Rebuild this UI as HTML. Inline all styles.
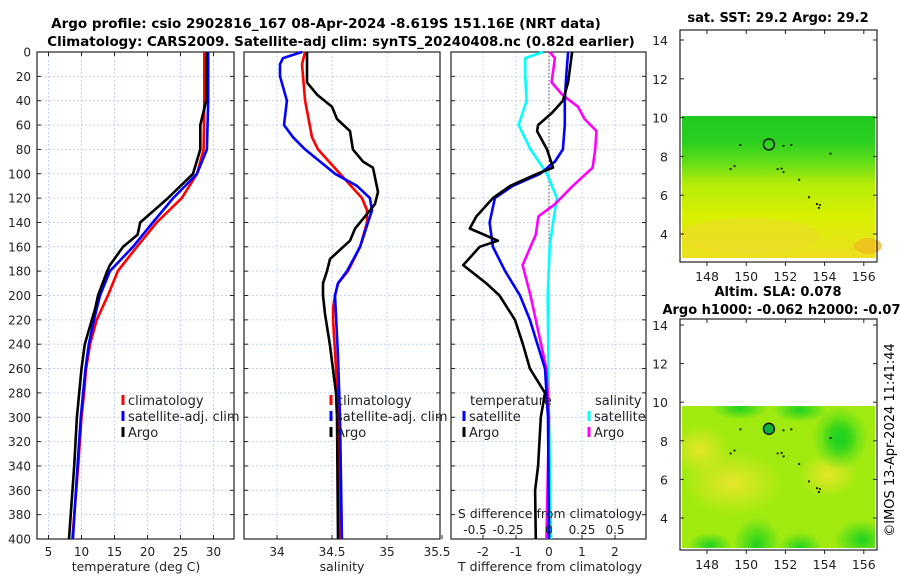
<!DOCTYPE html>
<html><head><meta charset="utf-8"><style>
html,body{margin:0;padding:0;background:#fff;}
svg{display:block;font-family:"DejaVu Sans","Liberation Sans",sans-serif;}
</style></head><body>
<svg id="fig" width="900" height="580" viewBox="0 0 900 580" xmlns="http://www.w3.org/2000/svg">
<defs>
<linearGradient id="sstg" x1="0" y1="0" x2="0" y2="1">
<stop offset="0" stop-color="#1ec81e"/><stop offset="0.18" stop-color="#2ad020"/>
<stop offset="0.32" stop-color="#60dc18"/><stop offset="0.48" stop-color="#b4ec08"/>
<stop offset="0.7" stop-color="#d8f000"/><stop offset="1" stop-color="#ece020"/>
</linearGradient>
<radialGradient id="gpatch"><stop offset="0" stop-color="#1ed21e"/><stop offset="1" stop-color="#1ed21e" stop-opacity="0"/></radialGradient>
<radialGradient id="ypatch"><stop offset="0" stop-color="#e6e628"/><stop offset="1" stop-color="#e6e628" stop-opacity="0"/></radialGradient>
<clipPath id="slaclip"><rect x="682" y="406" width="193" height="142"/></clipPath>
</defs>
<g id="titles">
<text x="326" y="28" text-anchor="middle" font-size="13.5" font-weight="bold">Argo profile: csio 2902816_167 08-Apr-2024 -8.619S 151.16E (NRT data)</text>
<text x="341" y="46" text-anchor="middle" font-size="13.4" font-weight="bold">Climatology: CARS2009. Satellite-adj clim: synTS_20240408.nc (0.82d earlier)</text>
<text x="778" y="22" text-anchor="middle" font-size="13" font-weight="bold">sat. SST: 29.2 Argo: 29.2</text>
<text x="778" y="296" text-anchor="middle" font-size="13" font-weight="bold">Altim. SLA: 0.078</text>
<text x="786" y="314" text-anchor="middle" font-size="13" font-weight="bold">Argo h1000: -0.062 h2000: -0.076</text>
<text transform="translate(894,440) rotate(-90)" text-anchor="middle" font-size="13">©IMOS 13-Apr-2024 11:41:44</text>
</g>
<g id="plots"></g>
</svg>
<script>
// ---- data ----
const depthTicks = [0,20,40,60,80,100,120,140,160,180,200,220,240,260,280,300,320,340,360,380,400];
const tempTicks = [5,10,15,20,25,30];
const salTicks = [34,34.5,35,35.5];
const salTickLabels = ["34","34.5","35","35.5"];
const tdiffTicks = [-2,-1,0,1,2];
const sdiffTicks = [-0.5,-0.25,0,0.25,0.5];
const sdiffLabels = ["-0.5","-0.25","0","0.25","0.5"];

const tClimDepth = [0,40,80,100,120,140,160,180,200,220,240,260,280,300,340,400];
const tClim =      [28.6,28.6,28.5,27.5,25.2,21.4,18.4,15.5,14.0,12.3,11.3,10.7,10.4,10.0,9.5,8.6];
const tSatDepth = [0,40,80,100,120,140,160,180,200,220,240,260,300,340,400];
const tSat =      [29.2,29.2,29.0,27.5,23.9,20.8,17.8,14.3,12.8,11.9,11.1,10.6,9.9,9.4,8.7];
const tArgoDepth = [0,40,60,80,100,120,140,150,160,175,180,200,210,240,260,300,340,400];
const tArgo =      [29.0,28.9,28.0,28.0,26.9,23.1,18.9,18.5,16.3,14.3,13.9,12.5,12.1,10.5,10.0,9.3,8.9,8.1];

const sClimDepth = [0,10,40,70,80,100,120,130,140,160,180,190,200,210,220,260,300,400];
const sClim =      [34.255,34.227,34.255,34.318,34.373,34.573,34.773,34.818,34.818,34.755,34.645,34.555,34.527,34.51,34.51,34.536,34.56,34.57];
const sSatDepth = [0,5,10,20,40,60,70,80,100,110,120,130,140,160,180,190,200,250,300,400];
const sSat =      [34.227,34.055,34.027,34.027,34.09,34.064,34.145,34.255,34.527,34.727,34.845,34.864,34.827,34.755,34.636,34.555,34.527,34.555,34.573,34.59];
const sArgoDepth = [0,25,35,45,55,65,80,90,95,115,125,135,145,155,170,180,190,200,215,240,280,300,400];
const sArgo =      [34.273,34.273,34.364,34.5,34.545,34.664,34.69,34.782,34.873,34.918,34.89,34.8,34.71,34.664,34.482,34.455,34.418,34.418,34.436,34.48,34.536,34.545,34.555];

const dSSatDepth = [0,5,20,40,60,80,100,120,140,160,200,300,400];
const dSSat =      [-0.045,-0.18,-0.18,-0.17,-0.23,-0.14,-0.015,0.06,0.03,0.005,-0.01,0.0,0.015];
const dSArgoDepth = [0,5,25,35,45,55,65,80,95,110,125,135,150,175,200,220,260,300,400];
const dSArgo =      [0.005,0.045,0.02,0.1,0.22,0.27,0.36,0.35,0.33,0.18,0.045,-0.08,-0.1,-0.2,-0.14,-0.1,-0.02,0.0,-0.02];
const dTSatDepth = [0,20,40,60,80,90,100,110,120,140,160,180,200,220,260,300,400];
const dTSat =      [0.58,0.52,0.48,0.48,0.42,0.18,-0.27,-1.1,-1.64,-1.8,-1.7,-1.33,-0.88,-0.58,-0.12,-0.03,0.0];
const dTArgoDepth = [0,25,40,50,60,65,80,95,100,110,120,135,145,155,160,175,190,200,220,240,260,280,300,340,360,400];
const dTArgo =      [0.7,0.58,0.42,0.09,-0.33,-0.36,-0.06,0.12,-0.36,-1.18,-1.7,-2.2,-2.4,-1.55,-2.1,-2.6,-1.9,-1.5,-1.03,-0.79,-0.58,-0.12,-0.25,-0.33,-0.42,-0.4];

const mapLonTicks = [148,150,152,154,156];
const mapLatTicks = [4,6,8,10,12,14];
const argoLon = 151.16, argoLat = 8.62;
const dotsLon = [149.7,151.9,152.3,154.3,149.4,149.2,151.6,151.8,151.9,152.7,153.2,153.6,153.75,153.7];
const dotsLat = [8.6,8.55,8.6,8.15,7.5,7.35,7.35,7.38,7.2,6.8,5.9,5.55,5.5,5.35];

// ---- axes ----
const Y0 = 52, YK = 487/400;
const yD = d => Y0 + d*YK;
const xT = t => 48.5 + (t-5)*6.6;
const xS = s => 277 + (s-34)*110;
const xDT = d => 549 + 33*d;
const xDS = s => 549 + 132*s;
const mapX = lon => 707 + (lon-148)*19.6;
const topMapY = lat => 234 - (lat-4)*19.4;
const botMapY = lat => 518 - (lat-4)*19.3;

const NS = "http://www.w3.org/2000/svg";
const root = document.getElementById('plots');
function mk(tag, attrs, parent){const e=document.createElementNS(NS,tag);for(const k in attrs)e.setAttribute(k,attrs[k]);(parent||root).appendChild(e);return e;}
function txt(x,y,s,size,anchor,parent){const e=mk('text',{x:x,y:y,'font-size':size,'text-anchor':anchor||'middle',fill:'#222'},parent);e.textContent=s;return e;}

function panel(name, x0, x1, vgridXs){
  const g = mk('g',{});
  
  
  depthTicks.forEach(d=>{ if(d>0&&d<400) mk('line',{x1:x0,x2:x1,y1:yD(d),y2:yD(d),stroke:'#b8c8ee','stroke-width':0.8,'stroke-dasharray':'2,2'},g);});
  vgridXs.forEach(x=>{ mk('line',{x1:x,x2:x,y1:Y0,y2:yD(400),stroke:'#b8c8ee','stroke-width':0.8,'stroke-dasharray':'2,2'},g);});
  depthTicks.forEach(d=>{
    mk('line',{x1:x0,x2:x0+4,y1:yD(d),y2:yD(d),stroke:'#222'},g);
    mk('line',{x1:x1,x2:x1-4,y1:yD(d),y2:yD(d),stroke:'#222'},g);
  });
  mk('rect',{x:x0,y:Y0,width:x1-x0,height:yD(400)-Y0,fill:'none',stroke:'#222','stroke-width':1.2},g);
  return g;
}
function line(g, depths, vals, xf, color, name){
  const pts = depths.map((d,i)=>xf(vals[i]).toFixed(1)+','+yD(d).toFixed(1)).join(' ');
  const p = mk('polyline',{points:pts,fill:'none',stroke:color,'stroke-width':2.6,'stroke-linejoin':'round'},g);
  
  
}

const dl = mk('g',{});


depthTicks.forEach(d=>txt(31,yD(d)+4.5,String(d),12,'end',dl));

const g1 = panel('temperature-panel',37,234,tempTicks.map(xT));
tempTicks.forEach(t=>{mk('line',{x1:xT(t),x2:xT(t),y1:yD(400),y2:yD(400)-4,stroke:'#222'},g1);mk('line',{x1:xT(t),x2:xT(t),y1:Y0,y2:Y0+4,stroke:'#222'},g1);txt(xT(t),556,String(t),12,'middle',g1);});
txt(136,571,'temperature (deg C)',12.5,'middle',g1);
line(g1,tClimDepth,tClim,xT,'#ff0000','temp-climatology-line');
line(g1,tSatDepth,tSat,xT,'#0000ff','temp-satellite-line');
line(g1,tArgoDepth,tArgo,xT,'#000000','temp-argo-line');

const g2 = panel('salinity-panel',244,440,salTicks.slice(0,3).map(xS));
salTicks.forEach((s,i)=>{mk('line',{x1:xS(s),x2:xS(s),y1:yD(400),y2:yD(400)-4,stroke:'#222'},g2);txt(Math.min(xS(s),437),556,salTickLabels[i],12,'middle',g2);});
txt(342,571,'salinity',12.5,'middle',g2);
line(g2,sClimDepth,sClim,xS,'#ff0000','sal-climatology-line');
line(g2,sSatDepth,sSat,xS,'#0000ff','sal-satellite-line');
line(g2,sArgoDepth,sArgo,xS,'#000000','sal-argo-line');

const g3 = panel('difference-panel',451,646,tdiffTicks.map(xDT));
mk('line',{x1:xDT(0),x2:xDT(0),y1:Y0,y2:yD(400),stroke:'#555','stroke-width':1,'stroke-dasharray':'1.5,2'},g3);
tdiffTicks.forEach(t=>{mk('line',{x1:xDT(t),x2:xDT(t),y1:yD(400),y2:yD(400)-4,stroke:'#222'},g3);txt(xDT(t),556,String(t),12,'middle',g3);});
txt(550,571,'T difference from climatology',12.5,'middle',g3);
line(g3,dSSatDepth,dSSat,xDS,'#00ffff','sdiff-satellite-line');
line(g3,dSArgoDepth,dSArgo,xDS,'#ff00ff','sdiff-argo-line');
line(g3,dTSatDepth,dTSat,xDT,'#0000ff','tdiff-satellite-line');
line(g3,dTArgoDepth,dTArgo,xDT,'#000000','tdiff-argo-line');
const sl = mk('g',{},g3);


txt(550,518,'S difference from climatology',12.5,'middle',sl);
sdiffTicks.forEach((s,i)=>txt(xDS(s)-(s<0?8:0),534,sdiffLabels[i],12,'middle',sl));

function legend(parent, x, y, items, name){
  const g = mk('g',{},parent);
  
  
  items.forEach((it,i)=>{
    if(it[1]) mk('line',{x1:x,x2:x,y1:y+i*16-10,y2:y+i*16,stroke:it[1],'stroke-width':3},g);
    txt(x+(it[1]?5:0),y+i*16,it[0],13,'start',g);
  });
}
legend(g1,123,405,[['climatology','#ff0000'],['satellite-adj. clim','#0000ff'],['Argo','#000000']],'temperature-legend');
legend(g2,331,405,[['climatology','#ff0000'],['satellite-adj. clim','#0000ff'],['Argo','#000000']],'salinity-legend');
legend(g3,470,405,[['temperature',null]],'tdiff-legend-title');
legend(g3,464,421,[['satellite','#0000ff'],['Argo','#000000']],'tdiff-legend');
legend(g3,595,405,[['salinity',null]],'sdiff-legend-title');
legend(g3,589,421,[['satellite','#00ffff'],['Argo','#ff00ff']],'sdiff-legend');

function mapPanel(name, yf, top, bottom, fillFn, circleFill){
  const g = mk('g',{});
  
  
  fillFn(g);
  mk('rect',{x:680,y:top,width:197,height:bottom-top,fill:'none',stroke:'#222','stroke-width':1.2},g);
  mapLatTicks.forEach(l=>{const y=yf(l);mk('line',{x1:680,x2:684,y1:y,y2:y,stroke:'#222'},g);mk('line',{x1:877,x2:873,y1:y,y2:y,stroke:'#222'},g);txt(668,y+5,String(l),12.5,'end',g);});
  mapLonTicks.forEach(l=>{const x=mapX(l);mk('line',{x1:x,x2:x,y1:bottom,y2:bottom+4,stroke:'#222'},g);mk('line',{x1:x,x2:x,y1:top,y2:top+4,stroke:'#222'},g);txt(x,bottom+19,String(l),12.5,'middle',g);});
  dotsLon.forEach((lo,i)=>mk('rect',{x:mapX(lo)-0.8,y:yf(dotsLat[i])-0.8,width:1.8,height:1.8,fill:'#000'},g));
  const c = mk('circle',{cx:mapX(argoLon),cy:yf(argoLat),r:5.5,fill:circleFill,stroke:'#000','stroke-width':1.3},g);
  
  
}
mapPanel('sst-map', topMapY, 30, 262, g=>{
  mk('rect',{x:682,y:116,width:193,height:142,fill:'url(#sstg)'},g);
  mk('ellipse',{cx:868,cy:246,rx:14,ry:8,fill:'#f0b820',opacity:0.7},g);
  mk('ellipse',{cx:750,cy:236,rx:70,ry:18,fill:'#f0d830',opacity:0.5},g);
}, 'none');
mapPanel('sla-map', botMapY, 319, 550, g=>{
  const cg = mk('g',{'clip-path':'url(#slaclip)'},g);
  mk('rect',{x:682,y:406,width:193,height:142,fill:'#a0ea10'},cg);
  [[733,483,50,32],[828,475,30,22],[700,450,30,25]].forEach(e=>mk('ellipse',{cx:e[0],cy:e[1],rx:e[2],ry:e[3],fill:'url(#ypatch)'},cg));
  [[840,438,28,32],[840,438,18,20],[757,545,24,28],[800,548,22,16],[862,540,28,20],[740,408,28,12],[800,410,28,12],[710,545,22,12]].forEach(e=>mk('ellipse',{cx:e[0],cy:e[1],rx:e[2],ry:e[3],fill:'url(#gpatch)'},cg));
}, '#10b040');
</script>
</body></html>
